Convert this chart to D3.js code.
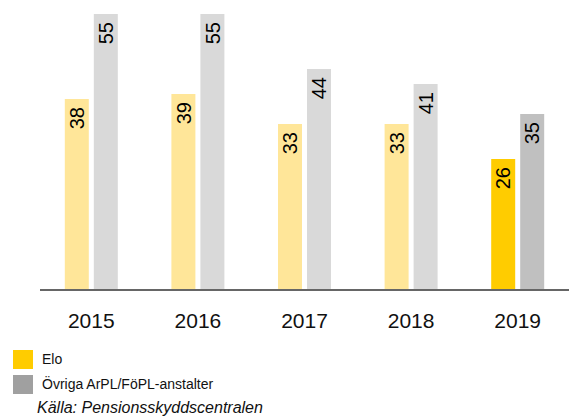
<!DOCTYPE html>
<html><head><meta charset="utf-8">
<script src="https://cdn.jsdelivr.net/npm/d3@7"></script>
<style>body{margin:0;background:#fff;} text{font-family:"Liberation Sans",Arial,sans-serif;}</style>
</head><body>
<svg id="c" width="569" height="416"></svg>
<script>
const years = ["2015","2016","2017","2018","2019"];
const elo = [38,39,33,33,26];
const ovriga = [55,55,44,41,35];
const seriesNames = ["Elo","Övriga ArPL/FöPL-anstalter"];
const source = "Källa: Pensionsskyddscentralen";

const svg = d3.select("#c");
const axisY = 289;
const x = d3.scaleBand().domain(years).range([38, 571]).paddingInner(0).paddingOuter(0);
const y = d3.scaleLinear().domain([0,55]).range([axisY, 14]);
const barW = 24, gap = 5;

const eloCol = (i) => i === years.length-1 ? "#FFCC00" : "#FFE699";
const ovrCol = (i) => i === years.length-1 ? "#C0C0C0" : "#D9D9D9";

years.forEach((yr,i) => {
  const cx = x(yr) + x.bandwidth()/2;
  const xs = [cx - gap/2 - barW, cx + gap/2];
  const vals = [elo[i], ovriga[i]];
  const cols = [eloCol(i), ovrCol(i)];
  vals.forEach((v,j) => {
    svg.append("rect").attr("x", xs[j]).attr("y", y(v)).attr("width", barW)
      .attr("height", axisY - y(v)).attr("fill", cols[j]);
    const tx = xs[j] + barW/2, ty = y(v) + 8;
    svg.append("text").attr("transform", `translate(${tx},${ty}) rotate(-90)`)
      .attr("dy", "0.36em").attr("text-anchor", "end").attr("font-size", 20).attr("fill", "#000")
      .text(v);
  });
  svg.append("text").attr("x", cx).attr("y", 328).attr("text-anchor","middle")
    .attr("font-size", 21).attr("fill","#111").text(yr);
});

svg.append("line").attr("x1", 40).attr("x2", 569).attr("y1", axisY+1).attr("y2", axisY+1)
  .attr("stroke", "#666").attr("stroke-width", 2);

const legCols = ["#FFCC00", "#A0A0A0"];
seriesNames.forEach((n,i) => {
  const ly = 350 + i*25;
  svg.append("rect").attr("x", 13).attr("y", ly).attr("width", 20).attr("height", 19).attr("fill", legCols[i]);
  svg.append("text").attr("x", 42).attr("y", ly + 14).attr("font-size", 14).attr("fill","#111").text(n);
});
svg.append("text").attr("x", 37).attr("y", 413).attr("font-size", 16).attr("font-style","italic")
  .attr("fill","#111").text(source);
</script>
</body></html>
